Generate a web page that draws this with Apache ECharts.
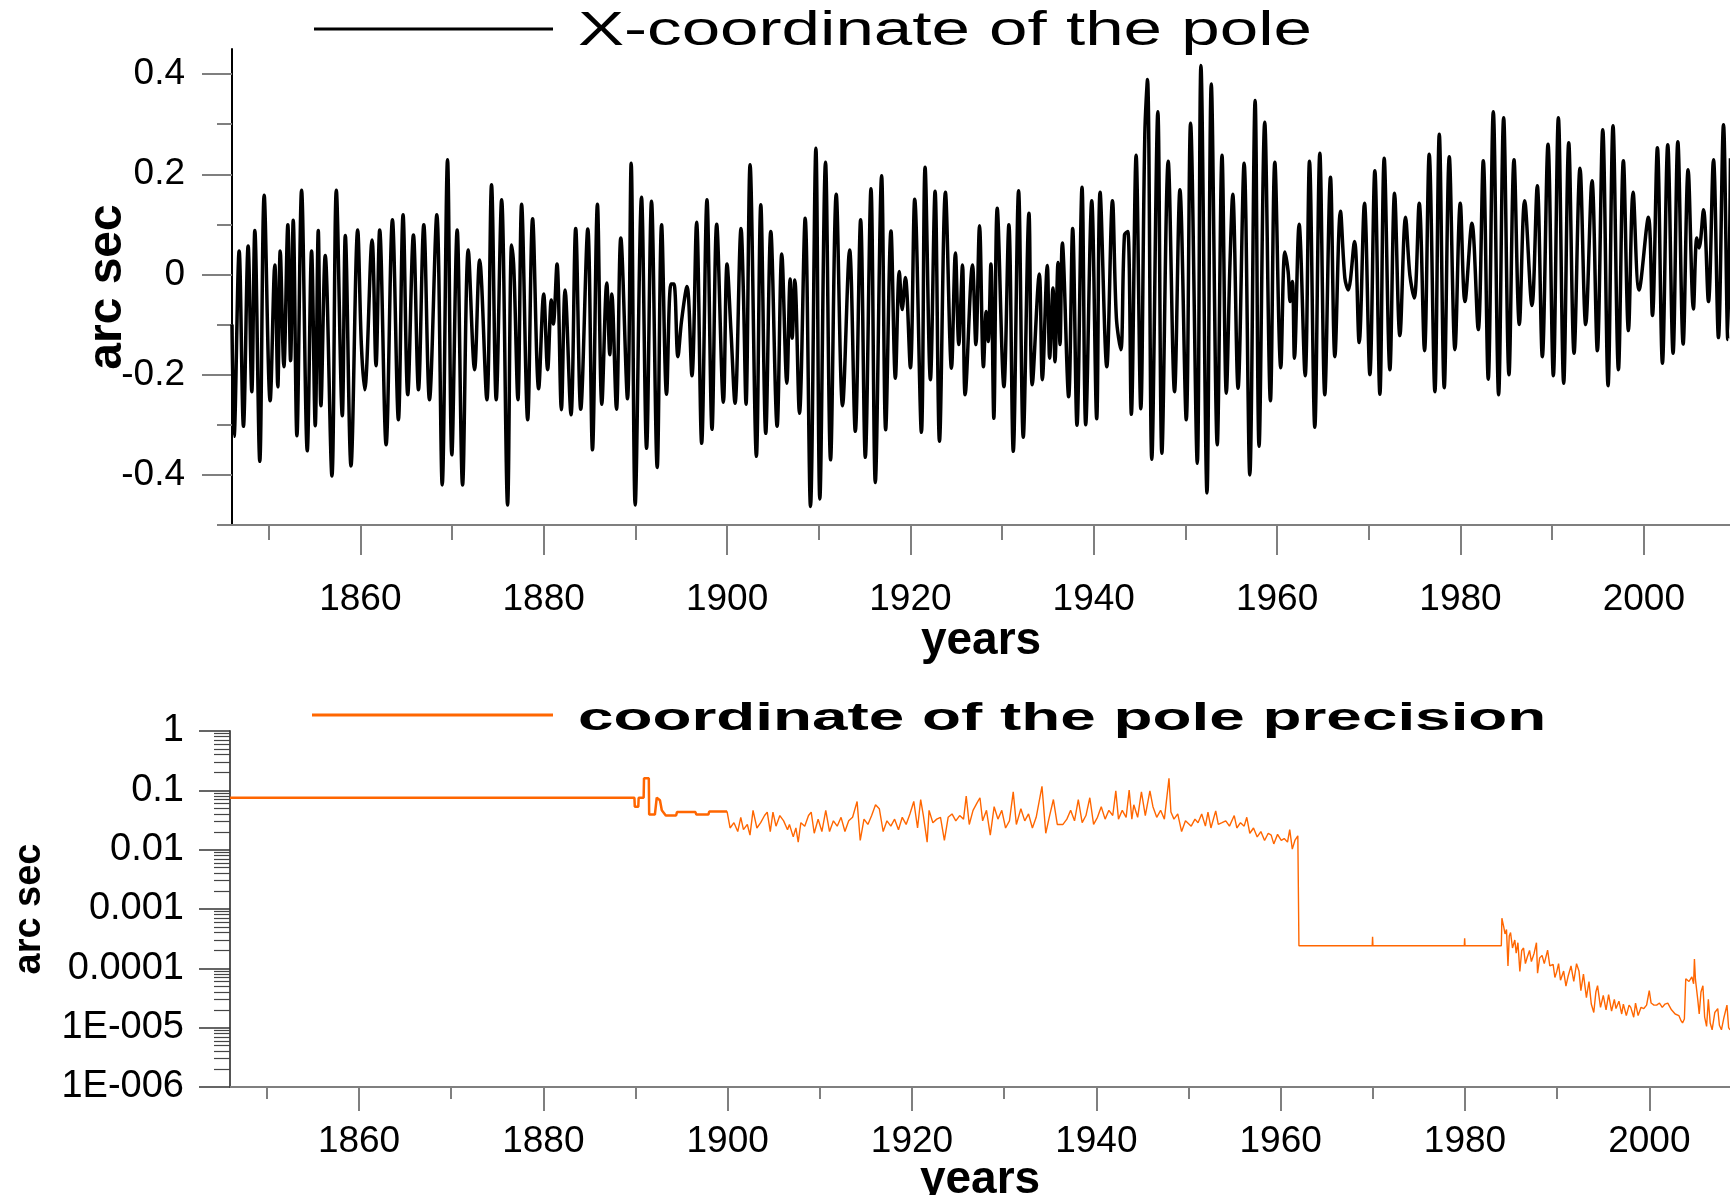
<!DOCTYPE html>
<html lang="en">
<head>
    <meta charset="UTF-8" />
    <title>Pole coordinate and precision</title>
    <script src="https://cdn.jsdelivr.net/npm/echarts@6/dist/echarts.min.js"></script>
    <style>
        body { margin: 0; background: #fff; }
        #chart { width: 1730px; height: 1195px; }
    </style>
</head>
<body>
<div id="chart"></div>
<script>
// X-coordinate of the pole, arc sec  [year, value]
const poleX1 = [[1846.00,-0.100],[1846.23,-0.323],[1846.78,0.047],[1847.25,-0.303],[1847.76,0.057],[1848.16,-0.234],[1848.49,0.088],[1849.03,-0.373],[1849.51,0.158],[1850.16,-0.252],[1850.67,0.019],[1851.00,-0.224],[1851.26,0.047],[1851.66,-0.184],[1852.09,0.099],[1852.39,-0.172],[1852.68,0.108],[1853.08,-0.322],[1853.59,0.168],[1854.21,-0.352],[1854.68,0.047],[1855.08,-0.302],[1855.41,0.088],[1855.70,-0.262],[1856.17,0.038],[1856.90,-0.402],[1857.38,0.168],[1858.03,-0.282],[1858.36,0.078],[1858.98,-0.382],[1859.71,0.089],[1860.11,-0.140],[1860.47,-0.230],[1861.28,0.069],[1861.71,-0.182],[1862.11,0.089],[1862.81,-0.340],[1863.50,0.109],[1864.15,-0.290],[1864.66,0.119],[1865.17,-0.240],[1865.79,0.079],[1866.34,-0.230],[1866.92,0.099],[1867.54,-0.250],[1868.34,0.119],[1868.93,-0.420],[1869.51,0.229],[1869.98,-0.360],[1870.56,0.089],[1871.15,-0.420],[1871.77,0.049],[1872.46,-0.190],[1873.01,0.029],[1873.80,-0.250],[1874.31,0.179],[1874.82,-0.250],[1875.41,0.149],[1876.06,-0.460],[1876.50,0.059],[1876.75,0.009],[1877.19,-0.250],[1877.59,0.140],[1878.25,-0.290],[1878.79,0.111],[1879.45,-0.228],[1880.00,-0.039],[1880.43,-0.190],[1880.83,-0.051],[1881.05,-0.099],[1881.45,0.021],[1881.93,-0.270],[1882.33,-0.031],[1882.98,-0.280],[1883.49,0.092],[1884.04,-0.269],[1884.81,0.091],[1885.32,-0.350],[1885.86,0.140],[1886.34,-0.259],[1886.88,-0.017],[1887.21,-0.160],[1887.43,-0.039],[1887.94,-0.269],[1888.41,0.073],[1889.14,-0.248],[1889.54,0.222],[1889.98,-0.460],[1890.67,0.154],[1891.22,-0.347],[1891.76,0.146],[1892.38,-0.385],[1892.86,0.099],[1893.40,-0.239],[1893.88,-0.019],[1894.20,-0.019],[1894.64,-0.164],[1895.04,-0.092],[1895.63,-0.024],[1896.17,-0.202],[1896.68,0.104],[1897.23,-0.337],[1897.81,0.149],[1898.36,-0.309],[1898.87,0.100],[1899.60,-0.255],[1900.00,0.021]];
const poleX2 = [[1900.43,-0.114],[1900.87,-0.257],[1901.53,0.092],[1901.78,-0.034],[1902.07,-0.259],[1902.51,0.219],[1903.20,-0.363],[1903.68,0.139],[1904.22,-0.317],[1904.77,0.086],[1905.46,-0.303],[1905.97,0.041],[1906.52,-0.217],[1906.88,-0.009],[1907.10,-0.127],[1907.39,-0.011],[1907.90,-0.277],[1908.52,0.112],[1909.10,-0.463],[1909.69,0.252],[1910.12,-0.448],[1910.74,0.224],[1911.29,-0.370],[1911.91,0.160],[1912.60,-0.262],[1913.37,0.049],[1913.99,-0.313],[1914.57,0.109],[1915.08,-0.365],[1915.70,0.171],[1916.17,-0.415],[1916.86,0.197],[1917.30,-0.310],[1917.88,0.087],[1918.36,-0.207],[1918.79,0.006],[1919.10,-0.070],[1919.45,-0.006],[1920.00,-0.186],[1920.47,0.150],[1921.20,-0.315],[1921.60,0.214],[1922.18,-0.210],[1922.69,0.166],[1923.17,-0.333],[1923.82,0.164],[1924.48,-0.187],[1924.91,0.043],[1925.28,-0.140],[1925.68,0.019],[1925.97,-0.240],[1926.77,0.019],[1927.14,-0.140],[1927.54,0.097],[1927.97,-0.184],[1928.27,-0.074],[1928.49,-0.134],[1928.78,0.021],[1929.10,-0.287],[1929.47,0.132],[1930.20,-0.224],[1930.74,0.099],[1931.22,-0.353],[1931.80,0.167],[1932.31,-0.325],[1932.93,0.122],[1933.29,-0.220],[1934.06,0.001],[1934.39,-0.210],[1934.93,0.018],[1935.19,-0.167],[1935.55,-0.027],[1935.77,-0.174],[1936.10,0.024],[1936.32,-0.140],[1936.57,0.063],[1937.26,-0.244],[1937.70,0.092],[1938.17,-0.301],[1938.72,0.174],[1939.12,-0.300],[1939.78,0.147],[1940.32,-0.288],[1940.69,0.164],[1941.42,-0.184],[1942.04,0.147],[1942.47,-0.087],[1942.95,-0.150],[1943.35,0.079],[1943.71,0.086],[1944.10,-0.279],[1944.62,0.238],[1945.13,-0.268],[1945.57,0.280],[1945.86,0.389],[1946.33,-0.369],[1946.99,0.325],[1947.43,-0.357],[1948.12,0.226],[1948.81,-0.234],[1949.40,0.169],[1950.09,-0.290],[1950.56,0.302],[1951.29,-0.377],[1951.69,0.417],[1952.35,-0.436],[1952.82,0.380],[1953.47,-0.340],[1953.99,0.238],[1954.46,-0.237],[1954.86,0.023]];
const poleX3 = [[1955.16,0.160],[1955.74,-0.227],[1956.40,0.222],[1957.02,-0.400],[1957.60,0.347],[1958.03,-0.343],[1958.65,0.304],[1959.27,-0.252],[1959.75,0.224],[1960.40,-0.186],[1960.84,0.045],[1961.20,0.006],[1961.42,-0.054],[1961.67,-0.014],[1961.89,-0.167],[1962.40,0.100],[1963.06,-0.202],[1963.53,0.226],[1964.11,-0.305],[1964.66,0.242],[1965.20,-0.240],[1965.82,0.194],[1966.30,-0.164],[1966.91,0.126],[1967.39,-0.007],[1967.75,-0.031],[1968.44,0.066],[1968.95,-0.136],[1969.53,0.142],[1970.12,-0.200],[1970.66,0.207],[1971.21,-0.239],[1971.68,0.232],[1972.30,-0.190],[1972.81,0.162],[1973.39,-0.122],[1974.01,0.114],[1974.48,-0.001],[1974.96,-0.047],[1975.50,0.142],[1976.08,-0.152],[1976.59,0.240],[1977.21,-0.234],[1977.69,0.280],[1978.23,-0.226],[1978.78,0.235],[1979.40,-0.150],[1979.98,0.142],[1980.49,-0.054],[1981.25,0.102],[1981.94,-0.110],[1982.49,0.227],[1983.03,-0.209],[1983.58,0.325],[1984.16,-0.240],[1984.71,0.313],[1985.29,-0.200],[1985.84,0.229],[1986.42,-0.100],[1987.00,0.147],[1987.80,-0.062],[1988.38,0.177],[1988.93,-0.164],[1989.55,0.260],[1990.13,-0.202],[1990.68,0.313],[1991.26,-0.217],[1991.81,0.263],[1992.39,-0.157],[1993.04,0.212],[1993.66,-0.100],[1994.35,0.187],[1994.93,-0.152],[1995.52,0.289],[1996.10,-0.222],[1996.64,0.297],[1997.23,-0.190],[1997.77,0.227],[1998.32,-0.112],[1998.83,0.164],[1999.48,-0.031],[2000.50,0.114],[2000.94,-0.082],[2001.48,0.253],[2002.03,-0.177],[2002.61,0.259],[2003.19,-0.157],[2003.71,0.265],[2004.29,-0.139],[2004.83,0.209],[2005.41,-0.069],[2005.78,0.073],[2006.03,0.053],[2006.51,0.129],[2007.05,-0.054],[2007.60,0.229],[2008.14,-0.126],[2008.69,0.299],[2009.16,-0.130],[2009.45,0.232]];

// coordinate of the pole precision, arc sec  [year, value]
const precisionEarly = [[1846.00,0.075],[1889.88,0.075],[1889.92,0.053],[1890.30,0.053],[1890.34,0.075],[1890.88,0.075],[1890.92,0.16],[1891.44,0.16],[1891.48,0.039],[1892.10,0.039],[1892.30,0.075],[1892.65,0.068],[1892.85,0.046],[1893.28,0.0376],[1894.40,0.0376],[1894.50,0.043],[1896.50,0.043],[1896.60,0.039],[1897.90,0.039],[1898.00,0.044],[1899.93,0.044]];
const precisionClassic = [[1899.93,0.044],[1900.26,0.0232],[1900.68,0.0285],[1901.09,0.0202],[1901.42,0.0351],[1901.71,0.0217],[1902.13,0.0266],[1902.42,0.0176],[1902.75,0.046],[1903.17,0.0232],[1903.58,0.0285],[1904.00,0.0376],[1904.29,0.043],[1904.62,0.0202],[1904.91,0.043],[1905.24,0.0249],[1905.66,0.0376],[1906.07,0.0306],[1906.49,0.0217],[1906.70,0.0266],[1907.11,0.0164],[1907.40,0.0232],[1907.65,0.0134],[1907.94,0.0285],[1908.36,0.0249],[1908.77,0.0376],[1909.06,0.043],[1909.39,0.0189],[1909.81,0.0327],[1910.22,0.0202],[1910.64,0.046],[1911.05,0.0202],[1911.47,0.0306],[1911.88,0.0249],[1912.30,0.0351],[1912.72,0.0202],[1913.13,0.0306],[1913.55,0.0351],[1914.04,0.065],[1914.38,0.0143],[1914.79,0.0327],[1915.21,0.0266],[1915.62,0.0376],[1916.04,0.057],[1916.45,0.049],[1916.87,0.0202],[1917.28,0.0306],[1917.70,0.0249],[1918.11,0.0327],[1918.53,0.0217],[1918.94,0.0351],[1919.36,0.0266],[1919.77,0.040],[1920.19,0.065],[1920.60,0.0232],[1920.94,0.070],[1921.23,0.0376],[1921.64,0.0134],[1921.85,0.046],[1922.26,0.0285],[1922.68,0.0327],[1923.09,0.0351],[1923.51,0.0143],[1923.92,0.0351],[1924.34,0.040],[1924.75,0.0306],[1925.17,0.0376],[1925.59,0.0327],[1925.88,0.080],[1926.21,0.0266],[1926.62,0.046],[1927.04,0.061],[1927.37,0.075],[1927.66,0.0306],[1928.08,0.046],[1928.49,0.0176],[1928.91,0.053],[1929.32,0.0327],[1929.74,0.046],[1930.15,0.0232],[1930.57,0.0306],[1930.98,0.094],[1931.32,0.0266],[1931.81,0.049],[1932.23,0.0306],[1932.64,0.040],[1933.06,0.0232],[1933.47,0.0351],[1934.10,0.117],[1934.51,0.0189],[1934.93,0.0376],[1935.34,0.070],[1935.76,0.0266],[1936.38,0.0266],[1936.80,0.0327],[1937.21,0.046],[1937.63,0.0306],[1938.04,0.070],[1938.46,0.0285],[1938.87,0.0376],[1939.29,0.075],[1939.70,0.0266],[1940.12,0.0351],[1940.53,0.053],[1940.95,0.0327],[1941.36,0.046],[1941.78,0.0376],[1942.11,0.098],[1942.40,0.0327],[1942.81,0.046],[1943.23,0.0351],[1943.56,0.101],[1943.85,0.0327],[1944.06,0.057],[1944.48,0.0351],[1944.89,0.094],[1945.31,0.0376],[1945.81,0.098],[1946.14,0.053],[1946.55,0.0351],[1946.97,0.046],[1947.38,0.0327],[1947.88,0.159],[1948.09,0.043],[1948.42,0.0327],[1948.83,0.040],[1949.25,0.0202],[1949.67,0.0306],[1950.29,0.0249],[1950.70,0.0327],[1951.03,0.0285],[1951.43,0.040],[1951.83,0.0249],[1952.11,0.043],[1952.43,0.0232],[1952.95,0.045],[1953.23,0.0266],[1953.64,0.0285],[1954.04,0.0306],[1954.44,0.0249],[1954.96,0.0376],[1955.24,0.0232],[1955.64,0.0285],[1956.04,0.0249],[1956.32,0.0351],[1956.65,0.0189],[1957.05,0.0232],[1957.45,0.0164],[1957.85,0.0202],[1958.25,0.0143],[1958.65,0.0189],[1958.97,0.0176],[1959.25,0.0125],[1959.66,0.0181],[1960.06,0.0143],[1960.38,0.0154],[1960.74,0.0134],[1960.98,0.0217],[1961.26,0.0102],[1961.54,0.0143],[1961.86,0.0171]];
const precisionModern = [[1961.98,0.00024],[1969.93,0.00024],[1969.97,0.00034],[1970.01,0.00024],[1979.92,0.00024],[1979.96,0.00032],[1980.00,0.00024],[1983.94,0.00024],[1984.00,0.00070],[1984.20,0.00050],[1984.34,0.00038],[1984.50,0.00045],[1984.66,0.00011],[1984.80,0.00035],[1984.94,0.00040],[1985.15,0.00022],[1985.40,0.00030],[1985.55,0.00018],[1985.74,0.00027],[1985.95,0.000089],[1986.15,0.00020],[1986.35,0.00022],[1986.55,0.00012],[1986.75,0.000154],[1987.00,0.00020],[1987.20,0.00013],[1987.50,0.00018],[1987.75,0.00027],[1987.87,0.000083],[1988.10,0.00015],[1988.36,0.000165],[1988.60,0.00012],[1988.96,0.000203],[1989.20,0.00011],[1989.56,0.000117],[1989.75,0.00007],[1989.96,0.000089],[1990.15,0.00012],[1990.36,0.000063],[1990.70,0.00009],[1990.95,0.00005],[1991.17,0.000072],[1991.50,0.00011],[1991.80,0.00006],[1992.10,0.00012],[1992.37,0.000089],[1992.57,0.000042],[1992.85,0.00008],[1993.17,0.000032],[1993.45,0.00006],[1993.70,0.000025],[1993.97,0.000018],[1994.20,0.00004],[1994.38,0.000051],[1994.70,0.000022],[1995.00,0.000035],[1995.30,0.000020],[1995.58,0.000036],[1995.90,0.000019],[1996.20,0.000030],[1996.38,0.000021],[1996.70,0.000028],[1997.00,0.000017],[1997.18,0.000025],[1997.50,0.000016],[1997.80,0.000024],[1997.98,0.000022],[1998.30,0.000015],[1998.50,0.000026],[1998.78,0.000016],[1999.10,0.000022],[1999.40,0.000021],[1999.70,0.000024],[1999.99,0.000042],[2000.19,0.000026],[2000.50,0.000024],[2000.79,0.000024],[2001.10,0.000026],[2001.40,0.000022],[2001.70,0.000025],[2002.00,0.000026],[2002.40,0.000020],[2002.80,0.000017],[2003.20,0.000016],[2003.45,0.000013],[2003.60,0.000012],[2003.80,0.000014],[2003.95,0.000067],[2004.30,0.000060],[2004.61,0.000072],[2004.80,0.000055],[2004.89,0.000144],[2005.00,0.000065],[2005.13,0.000067],[2005.25,0.000030],[2005.41,0.000017],[2005.60,0.000040],[2005.81,0.000051],[2006.00,0.000015],[2006.21,0.0000105],[2006.40,0.000030],[2006.60,0.000012],[2006.81,0.0000092],[2007.10,0.000018],[2007.42,0.000021],[2007.60,0.000011],[2007.82,0.0000092],[2008.10,0.000015],[2008.42,0.000024],[2008.60,0.000010],[2008.75,0.0000092]];

// ticks and labels
const yearMajor = [1860, 1880, 1900, 1920, 1940, 1960, 1980, 2000];
const yearMinor = [1850, 1870, 1890, 1910, 1930, 1950, 1970, 1990, 2010];
const poleMajor = [-0.4, -0.2, 0, 0.2, 0.4];
const poleMinor = [-0.5, -0.3, -0.1, 0.1, 0.3];
const decades = [1e-6, 1e-5, 1e-4, 1e-3, 1e-2, 1e-1, 1];
const decadeLabels = ['1E-006', '1E-005', '0.0001', '0.001', '0.01', '0.1', '1'];

const logMinor = [];
decades.slice(0, -1).forEach(d => {
    for (let m = 2; m <= 9; m++) logMinor.push(d * m);
});

const FONT = '"Liberation Sans", Arial, sans-serif';
const GRAY = '#7f7f7f';

const chart = echarts.init(document.getElementById('chart'));

function yearAxis(gridIndex, max, len, ticks, labels, margin, nameGap) {
    return {
        type: 'value', gridIndex: gridIndex, position: 'bottom',
        min: 1846, max: max,
        splitLine: { show: false },
        axisLine: { show: !!labels, onZero: false, lineStyle: { color: GRAY, width: 2 } },
        axisTick: { show: true, length: len, customValues: ticks, lineStyle: { color: GRAY, width: 2 } },
        axisLabel: labels ? {
            show: true, customValues: labels, margin: margin,
            color: '#000', fontSize: 37, fontFamily: FONT,
            formatter: v => String(v)
        } : { show: false },
        name: labels ? 'years' : '',
        nameLocation: 'middle', nameGap: nameGap, nameMoveOverlap: false,
        nameTextStyle: { color: '#000', fontSize: 46, fontWeight: 'bold', fontFamily: FONT }
    };
}

const option = {
    animation: false,
    backgroundColor: '#fff',
    grid: [
        { left: 232, top: 49, width: 1498, height: 476, outerBoundsMode: 'none', containLabel: false },
        { left: 230, top: 731, width: 1500, height: 356, outerBoundsMode: 'none', containLabel: false }
    ],
    xAxis: [
        yearAxis(0, 2009.4, 30, yearMajor, yearMajor, 56, 93),
        yearAxis(0, 2009.4, 15, yearMinor, null),
        yearAxis(1, 2008.75, 24, yearMajor, yearMajor, 36, 70),
        yearAxis(1, 2008.75, 12, yearMinor, null)
    ],
    yAxis: [
        {
            type: 'value', gridIndex: 0, position: 'left', min: -0.5, max: 0.45,
            splitLine: { show: false },
            axisLine: { show: true, onZero: false, lineStyle: { color: '#000', width: 2 } },
            axisTick: { length: 30, customValues: poleMajor, lineStyle: { color: GRAY, width: 2 } },
            axisLabel: { customValues: poleMajor, margin: 47, color: '#000', fontSize: 37, fontFamily: FONT },
            name: 'arc sec', nameLocation: 'middle', nameGap: 100, nameMoveOverlap: false,
            nameTextStyle: { color: '#000', fontSize: 48, fontWeight: 'bold', fontFamily: FONT }
        },
        {
            type: 'value', gridIndex: 0, position: 'left', min: -0.5, max: 0.45,
            splitLine: { show: false },
            axisLine: { show: false, onZero: false },
            axisTick: { length: 15, customValues: poleMinor, lineStyle: { color: GRAY, width: 2 } },
            axisLabel: { show: false }
        },
        {
            type: 'log', logBase: 10, gridIndex: 1, position: 'left', min: 1e-6, max: 1,
            splitLine: { show: false },
            axisLine: { show: true, onZero: false, lineStyle: { color: '#555', width: 2 } },
            axisTick: { length: 31, customValues: decades, lineStyle: { color: '#333', width: 1.5 } },
            axisLabel: {
                customValues: decades, margin: 46, color: '#000', fontSize: 38, fontFamily: FONT,
                formatter: v => decadeLabels[Math.round(Math.log10(v)) + 6]
            },
            name: 'arc sec', nameLocation: 'middle', nameGap: 181, nameMoveOverlap: false,
            nameTextStyle: { color: '#000', fontSize: 38, fontWeight: 'bold', fontFamily: FONT }
        },
        {
            type: 'log', logBase: 10, gridIndex: 1, position: 'left', min: 1e-6, max: 1,
            splitLine: { show: false },
            axisLine: { show: false, onZero: false },
            axisTick: { length: 16, customValues: logMinor, lineStyle: { color: '#444', width: 1.2 } },
            axisLabel: { show: false }
        }
    ],
    graphic: [
        { type: 'line', shape: { x1: 314, y1: 29, x2: 553, y2: 29 }, style: { stroke: '#000', lineWidth: 3 } },
        {
            type: 'text', x: 578, y: 32, scaleX: 1.44,
            style: { text: 'X-coordinate of the pole', fontSize: 48, fontFamily: FONT, fill: '#000', align: 'left', verticalAlign: 'middle' }
        },
        { type: 'line', shape: { x1: 312, y1: 715, x2: 553, y2: 715 }, style: { stroke: '#ff6600', lineWidth: 3 } },
        {
            type: 'text', x: 578, y: 720, scaleX: 1.68,
            style: { text: 'coordinate of the pole precision', fontSize: 38, fontWeight: 'bold', fontFamily: FONT, fill: '#000', align: 'left', verticalAlign: 'middle' }
        }
    ],
    series: [
        {
            name: 'X-coordinate of the pole', type: 'line', xAxisIndex: 0, yAxisIndex: 0,
            data: poleX1.concat(poleX2, poleX3),
            symbol: 'none', smooth: 0.35,
            lineStyle: { color: '#000', width: 3.5 }
        },
        {
            name: 'coordinate of the pole precision', type: 'line', xAxisIndex: 2, yAxisIndex: 2,
            data: precisionEarly, symbol: 'none',
            lineStyle: { color: '#ff6600', width: 2.5 }
        },
        {
            name: 'coordinate of the pole precision', type: 'line', xAxisIndex: 2, yAxisIndex: 2,
            data: precisionClassic.concat(precisionModern), symbol: 'none',
            lineStyle: { color: '#ff6600', width: 1.4 }
        }
    ]
};

chart.setOption(option);
</script>
</body>
</html>
